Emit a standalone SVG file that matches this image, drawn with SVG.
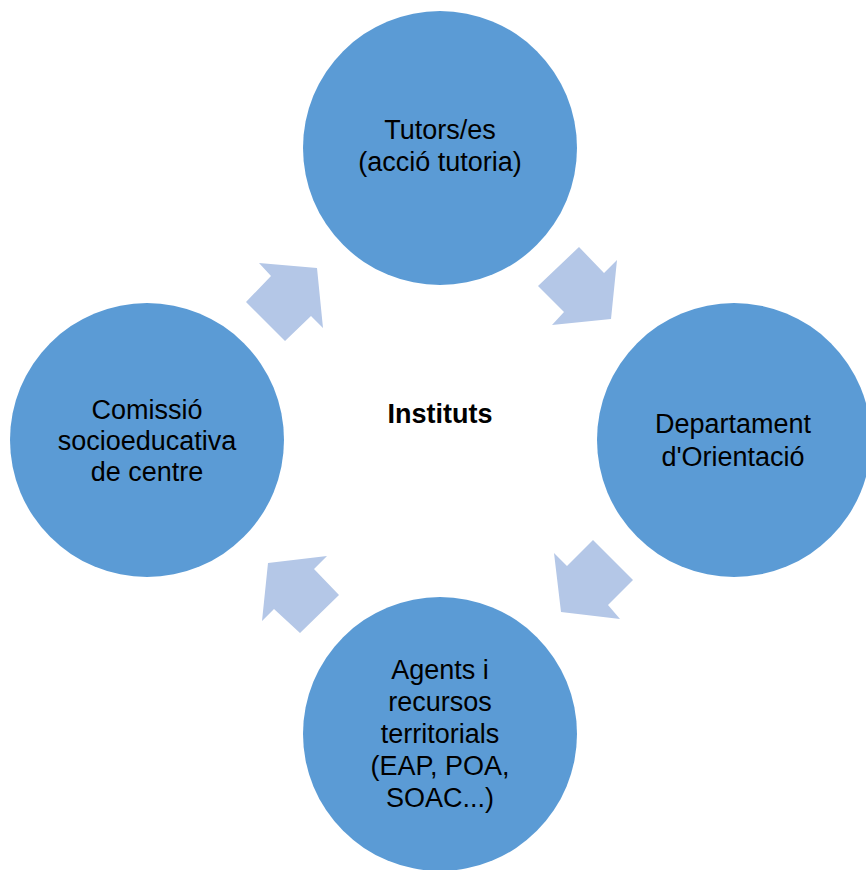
<svg xmlns="http://www.w3.org/2000/svg" width="866" height="870" viewBox="0 0 866 870">
<style>
.node{fill:#5B9BD5;}
.arrow{fill:#B4C7E7;}
text{font-family:"Liberation Sans",Arial,sans-serif;font-size:27px;fill:#000;text-anchor:middle;}
.center{font-weight:bold;}
</style>
<rect width="866" height="870" fill="#fff"/>
<g id="connectors">
<polygon class="arrow" points="259,263 317,268 323,328 311,316 285,341 246,302 271,276"/>
<polygon class="arrow" points="579,247 604,273 617,260 611,319 552,325 564,312 538,286"/>
<polygon class="arrow" points="593,540 633,580 608,605 620,619 561,612 554,553 567,566"/>
<polygon class="arrow" points="268,563 327,556 314,569 339,595 300,633 274,609 262,621"/>
</g>
<g id="center">
<text class="center" x="440" y="423">Instituts</text>
</g>
<g id="node-tutors">
<circle class="node" cx="440" cy="148" r="137"/>
<text x="440" y="139">Tutors/es</text>
<text x="440" y="171">(acció tutoria)</text>
</g>
<g id="node-departament">
<circle class="node" cx="734" cy="440" r="137"/>
<text x="733" y="433">Departament</text>
<text x="733" y="466">d'Orientació</text>
</g>
<g id="node-agents">
<circle class="node" cx="440" cy="734" r="137"/>
<text x="440" y="679">Agents i</text>
<text x="440" y="711">recursos</text>
<text x="440" y="743">territorials</text>
<text x="440" y="775">(EAP, POA,</text>
<text x="440" y="807">SOAC...)</text>
</g>
<g id="node-comissio">
<circle class="node" cx="147" cy="440" r="137"/>
<text x="147" y="419">Comissió</text>
<text x="147" y="450">socioeducativa</text>
<text x="147" y="481">de centre</text>
</g>
</svg>
